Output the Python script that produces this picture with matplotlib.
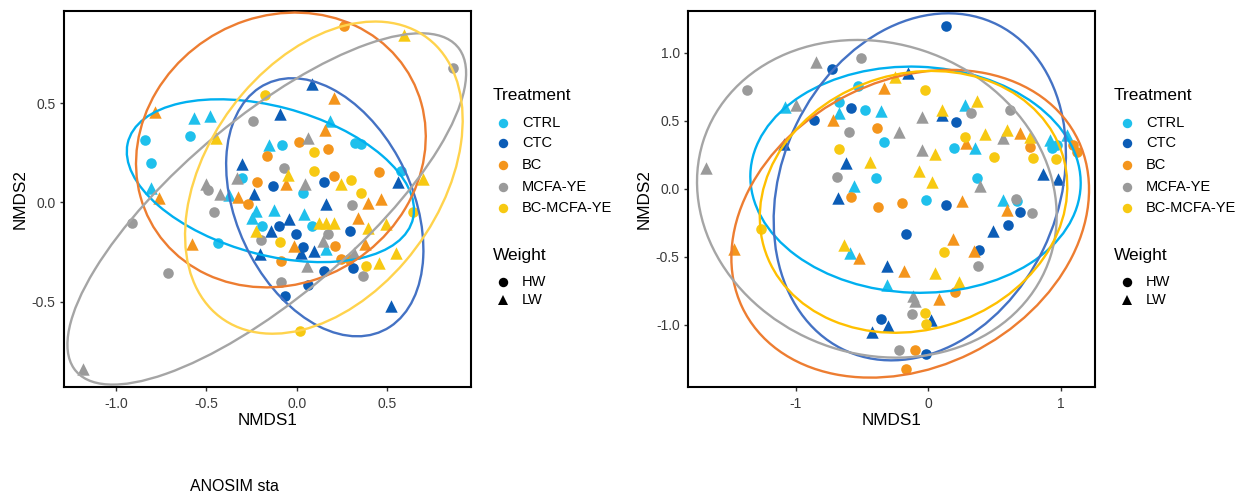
import numpy as np
import pandas as pd
import matplotlib
matplotlib.use("Agg")
import matplotlib.pyplot as plt
from matplotlib.patches import Ellipse
from matplotlib.lines import Line2D

plt.rcParams["font.family"] = ["Liberation Sans", "DejaVu Sans"]
plt.rcParams["axes.unicode_minus"] = False

treatments = ["CTRL", "CTC", "BC", "MCFA-YE", "BC-MCFA-YE"]
weights = ["HW", "LW"]

# ---- left panel (NMDS1, NMDS2) ----
L_CTRL_HW = [(-0.840, 0.312), (-0.589, 0.333), (-0.807, 0.199), (-0.081, 0.291), (0.324, 0.300), (0.355, 0.293),
             (0.576, 0.157), (0.033, 0.049), (-0.435, -0.206), (0.085, -0.116), (-0.190, -0.119), (-0.300, 0.121)]
L_CTRL_LW = [(-0.567, 0.425), (-0.481, 0.436), (-0.803, 0.075), (-0.151, 0.291), (0.186, 0.409), (-0.374, 0.037),
             (-0.227, -0.044), (-0.249, -0.079), (-0.123, -0.040), (0.042, -0.060), (0.162, -0.236)]
L_CTC_HW = [(-0.129, 0.084), (0.153, 0.101), (-0.096, -0.119), (-0.004, -0.161), (0.033, -0.224), (0.295, -0.144),
            (0.313, -0.332), (0.153, -0.345), (0.061, -0.415), (-0.064, -0.471)]
L_CTC_LW = [(0.085, 0.598), (-0.092, 0.447), (-0.300, 0.196), (-0.236, 0.045), (0.562, 0.101), (0.162, -0.010),
            (-0.044, -0.085), (-0.142, -0.141), (-0.203, -0.261), (0.024, -0.253), (0.098, -0.245), (0.521, -0.521)]
L_BC_HW = [(0.263, 0.888), (0.011, 0.305), (-0.162, 0.235), (0.171, 0.271), (-0.217, 0.104), (0.208, 0.134),
           (0.457, 0.151), (-0.271, -0.007), (-0.087, -0.295), (0.214, -0.219), (0.245, -0.286), (0.287, -0.283)]
L_BC_LW = [(-0.785, 0.456), (0.204, 0.526), (0.158, 0.363), (-0.059, 0.095), (-0.761, 0.022), (-0.324, 0.028),
           (0.392, -0.002), (0.466, 0.015), (0.337, -0.077), (-0.580, -0.211), (0.379, -0.211), (-0.013, -0.219)]
L_MCFA_HW = [(0.866, 0.677), (-0.243, 0.409), (-0.068, 0.171), (-0.488, 0.062), (-0.457, -0.047), (-0.913, -0.102),
             (-0.709, -0.357), (-0.195, -0.191), (0.306, -0.013), (0.171, -0.157), (-0.087, -0.399), (0.368, -0.370)]
L_MCFA_LW = [(0.061, 0.325), (-0.503, 0.095), (-0.328, 0.121), (-0.425, 0.045), (0.048, 0.095), (0.144, -0.194),
             (0.055, -0.320), (0.319, -0.253), (-1.180, -0.839)]
L_BCM_HW = [(-0.173, 0.543), (0.094, 0.255), (0.098, 0.157), (0.300, 0.112), (0.355, 0.050), (0.641, -0.047),
            (-0.092, -0.198), (0.383, -0.320), (0.020, -0.647)]
L_BCM_LW = [(0.595, 0.844), (-0.448, 0.322), (-0.050, 0.137), (0.245, 0.095), (0.700, 0.117), (-0.227, -0.144),
            (0.125, -0.102), (0.162, -0.102), (0.208, -0.102), (0.392, -0.127), (0.494, -0.107), (0.453, -0.303),
            (0.549, -0.253)]

# ---- right panel ----
R_CTRL_HW = [(-0.531, 0.756), (-0.669, 0.639), (-0.475, 0.578), (-0.330, 0.340), (-0.390, 0.081), (0.194, 0.296),
             (0.370, 0.076), (-0.020, -0.086), (0.672, -0.093), (0.931, 0.296), (0.969, 0.321)]
R_CTRL_LW = [(-1.077, 0.602), (-0.669, 0.553), (-0.355, 0.573), (0.277, 0.614), (0.352, 0.296), (-0.556, 0.022),
             (0.561, -0.086), (-0.591, -0.472), (-0.314, -0.705), (0.918, 0.357), (1.044, 0.394)]
R_CTC_HW = [(-0.725, 0.879), (-0.581, 0.597), (-0.863, 0.504), (0.209, 0.492), (0.138, 1.197), (0.138, -0.122),
            (0.692, -0.171), (0.604, -0.264), (-0.164, -0.333), (0.382, -0.448), (-0.352, -0.962), (-0.013, -1.214)]
R_CTC_LW = [(-0.151, 0.852), (0.101, 0.541), (-1.084, 0.326), (-0.619, 0.186), (-0.682, -0.066), (0.863, 0.105),
            (0.981, 0.069), (0.486, -0.313), (-0.314, -0.570), (0.025, -0.967), (-0.302, -1.011), (-0.420, -1.055)]
R_BC_HW = [(-0.387, 0.448), (-0.581, -0.059), (-0.377, -0.135), (-0.194, -0.105), (0.767, 0.308), (1.094, 0.321),
           (1.119, 0.272), (0.201, -0.761), (-0.101, -1.187), (-0.164, -1.329)]
R_BC_LW = [(-0.330, 0.742), (-0.720, 0.504), (0.284, 0.333), (0.692, 0.406), (0.252, -0.093), (0.591, -0.154),
           (-1.467, -0.443), (-0.521, -0.509), (0.189, -0.370), (0.347, -0.460), (-0.181, -0.602), (0.083, -0.815)]
R_MCFA_HW = [(-0.506, 0.962), (-1.366, 0.729), (-0.594, 0.414), (-0.687, 0.088), (0.322, 0.553), (0.616, 0.578),
             (0.662, -0.073), (0.780, -0.179), (0.377, -0.570), (-0.121, -0.925), (-0.219, -1.187)]
R_MCFA_LW = [(-0.845, 0.932), (-0.996, 0.614), (-1.675, 0.154), (-0.043, 0.529), (-0.219, 0.414), (-0.050, 0.284),
             (0.566, 0.370), (0.390, 0.022), (-0.113, -0.786), (-0.101, -0.827)]
R_BCM_HW = [(-0.025, 0.724), (-0.669, 0.289), (0.277, 0.382), (0.498, 0.235), (0.787, 0.228), (0.964, 0.218),
            (-1.258, -0.294), (0.121, -0.467), (-0.025, -0.913), (-0.013, -0.999)]
R_BCM_LW = [(-0.252, 0.822), (0.101, 0.578), (0.365, 0.644), (-0.435, 0.193), (0.055, 0.252), (0.428, 0.399),
            (0.591, 0.431), (0.767, 0.382), (-0.068, 0.130), (0.030, 0.051), (-0.634, -0.411), (0.055, -0.619),
            (0.234, -0.688)]

# ellipses: x-min, x-max, y-min, y-max, y of right-most point
L_ELL_CTRL = (-0.939, 0.648, -0.300, 0.519, -0.037)
L_ELL_CTC = (-0.390, 0.700, -0.673, 0.625, -0.238)
L_ELL_BC = (-0.888, 0.713, -0.427, 0.955, 0.332)
L_ELL_MCFA = (-1.267, 0.936, -0.916, 0.851, 0.650)
L_ELL_BCM = (-0.617, 0.917, -0.660, 0.910, 0.415)
R_ELL_CTRL = (-1.341, 1.150, -0.766, 0.898, 0.042)
R_ELL_CTC = (-1.165, 1.039, -1.263, 1.290, 0.262)
R_ELL_BC = (-1.484, 1.213, -1.390, 0.874, -0.007)
R_ELL_MCFA = (-1.743, 0.969, -1.243, 1.094, -0.200)
R_ELL_BCM = (-1.270, 1.049, -1.060, 0.866, 0.017)

pt_colors = {"CTRL": "#1FC0EC", "CTC": "#0B5CB6", "BC": "#F4951C", "MCFA-YE": "#9A9A9A", "BC-MCFA-YE": "#F7C912"}
ell_left = {"CTRL": "#00B0F0", "CTC": "#4472C4", "BC": "#ED7D31", "MCFA-YE": "#A5A5A5", "BC-MCFA-YE": "#FFD34D"}
ell_right = {"CTRL": "#00B0F0", "CTC": "#4472C4", "BC": "#ED7D31", "MCFA-YE": "#A5A5A5", "BC-MCFA-YE": "#FFC000"}
shapes = {"HW": "o", "LW": "^"}


def make_df(groups):
    rows = []
    for (trt, wt), pts in groups.items():
        for x, y in pts:
            rows.append({"NMDS1": x, "NMDS2": y, "Treatment": trt, "Weight": wt})
    return pd.DataFrame(rows)


left = make_df({
    ("CTRL", "HW"): L_CTRL_HW, ("CTRL", "LW"): L_CTRL_LW,
    ("CTC", "HW"): L_CTC_HW, ("CTC", "LW"): L_CTC_LW,
    ("BC", "HW"): L_BC_HW, ("BC", "LW"): L_BC_LW,
    ("MCFA-YE", "HW"): L_MCFA_HW, ("MCFA-YE", "LW"): L_MCFA_LW,
    ("BC-MCFA-YE", "HW"): L_BCM_HW, ("BC-MCFA-YE", "LW"): L_BCM_LW,
})
right = make_df({
    ("CTRL", "HW"): R_CTRL_HW, ("CTRL", "LW"): R_CTRL_LW,
    ("CTC", "HW"): R_CTC_HW, ("CTC", "LW"): R_CTC_LW,
    ("BC", "HW"): R_BC_HW, ("BC", "LW"): R_BC_LW,
    ("MCFA-YE", "HW"): R_MCFA_HW, ("MCFA-YE", "LW"): R_MCFA_LW,
    ("BC-MCFA-YE", "HW"): R_BCM_HW, ("BC-MCFA-YE", "LW"): R_BCM_LW,
})


def box_ellipse(box, color):
    x0, x1, y0, y1, yr = box
    cx, cy = (x0 + x1) / 2, (y0 + y1) / 2
    w, h = (x1 - x0) / 2, (y1 - y0) / 2
    dc = w ** 2 - h ** 2
    ds = 2 * (yr - cy) * w
    s = w ** 2 + h ** 2
    d = np.hypot(dc, ds)
    ang = 0.5 * np.degrees(np.arctan2(ds, dc))
    a = np.sqrt((s + d) / 2)
    b = np.sqrt(max((s - d) / 2, 1e-6))
    return Ellipse((cx, cy), 2 * a, 2 * b, angle=ang, fill=False, ec=color, lw=1.7, zorder=5)


def draw_panel(ax, df, ells, ell_cols, xlim, ylim, xticks, yticks, xfmt):
    for trt in treatments:
        for wt in weights:
            sub = df[(df.Treatment == trt) & (df.Weight == wt)]
            ax.scatter(sub.NMDS1, sub.NMDS2, c=pt_colors[trt], marker=shapes[wt],
                       s=58 if wt == "HW" else 80, linewidths=0, zorder=3)
    for trt, box in zip(treatments, ells):
        ax.add_patch(box_ellipse(box, ell_cols[trt]))
    ax.set_xlim(*xlim)
    ax.set_ylim(*ylim)
    ax.set_xticks(xticks)
    ax.set_xticklabels([xfmt.format(v) for v in xticks])
    ax.set_yticks(yticks)
    ax.set_yticklabels(["{:.1f}".format(v) for v in yticks])
    for sp in ax.spines.values():
        sp.set_linewidth(1.5)
        sp.set_color("black")
    ax.tick_params(length=3, width=1, color="#333333", labelcolor="#3A3A3A", labelsize=10)
    ax.tick_params(axis="x", pad=4.5)
    ax.tick_params(axis="y", pad=3)
    ax.set_xlabel("NMDS1", fontsize=12.3)
    ax.set_ylabel("NMDS2", fontsize=12.3)
    ax.xaxis.set_label_coords(0.5, -0.09)
    ax.xaxis.label.set_va("center")
    ax.yaxis.set_label_coords(-0.108, 0.5)
    ax.yaxis.label.set_va("center")


W, H = 1245, 498
fig = plt.figure(figsize=(W / 100, H / 100), dpi=100)
ax1 = fig.add_axes([64 / W, 1 - 387 / H, 407 / W, 376 / H])
ax2 = fig.add_axes([688 / W, 1 - 387 / H, 407 / W, 376 / H])

draw_panel(ax1, left, [L_ELL_CTRL, L_ELL_CTC, L_ELL_BC, L_ELL_MCFA, L_ELL_BCM], ell_left,
           (-1.286, 0.963), (-0.928, 0.963), [-1.0, -0.5, 0.0, 0.5], [-0.5, 0.0, 0.5], "{:.1f}")
draw_panel(ax2, right, [R_ELL_CTRL, R_ELL_CTC, R_ELL_BC, R_ELL_MCFA, R_ELL_BCM], ell_right,
           (-1.811, 1.258), (-1.459, 1.307), [-1, 0, 1], [-1.0, -0.5, 0.0, 0.5, 1.0], "{:d}")


def draw_legend(x_title, x_mark, x_text):
    fx = lambda px: px / W
    fy = lambda py: 1 - py / H
    fig.text(fx(x_title), fy(95), "Treatment", fontsize=12.5, va="center", ha="left")
    for trt, yy in zip(treatments, [122.7, 143.3, 165, 186.7, 207.7]):
        fig.add_artist(Line2D([fx(x_mark)], [fy(yy)], marker="o", ms=6.8, mew=0, color=pt_colors[trt],
                              transform=fig.transFigure))
        fig.text(fx(x_text), fy(yy), trt, fontsize=10.5, va="center", ha="left")
    fig.text(fx(x_title), fy(255), "Weight", fontsize=12.5, va="center", ha="left")
    for wt, yy in zip(weights, [281.7, 300]):
        fig.add_artist(Line2D([fx(x_mark)], [fy(yy)], marker=shapes[wt], ms=6.8 if wt == "HW" else 7.5,
                              mew=0, color="black", transform=fig.transFigure))
        fig.text(fx(x_text), fy(yy), wt, fontsize=10.5, va="center", ha="left")


draw_legend(493, 503, 522)
draw_legend(1114, 1127, 1146)

fig.text(234 / W, 1 - 486 / H, "ANOSIM sta", fontsize=11.5, va="center", ha="center")

fig.savefig("out.png", dpi=100)
